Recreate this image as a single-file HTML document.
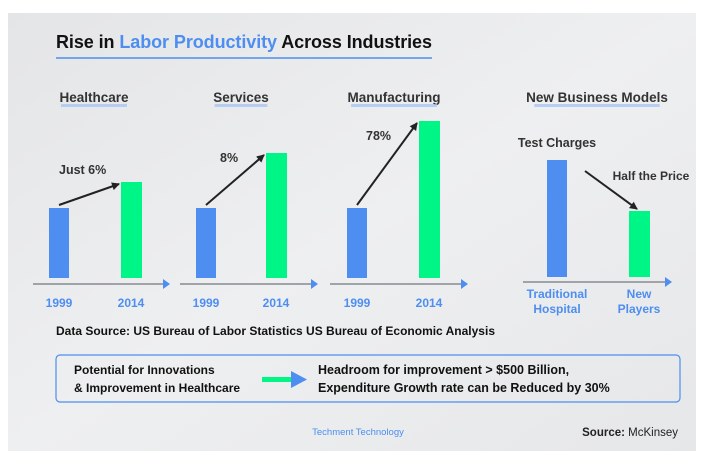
<!DOCTYPE html>
<html><head><meta charset="utf-8"><style>
body{margin:0;background:#fff;font-family:"Liberation Sans","DejaVu Sans",sans-serif;}
svg{display:block}
text{font-family:"Liberation Sans","DejaVu Sans",sans-serif;font-weight:bold}
</style></head><body>
<svg id="c" width="704" height="457">
<defs>
<linearGradient id="bg" x1="0" y1="0" x2="1" y2="1"><stop offset="0" stop-color="#e4e5e7"/><stop offset="0.5" stop-color="#eeeff0"/><stop offset="1" stop-color="#e6e7e9"/></linearGradient>
<marker id="ah" markerWidth="8" markerHeight="8" refX="7" refY="4" orient="auto" markerUnits="userSpaceOnUse"><path d="M0,0 L8,4 L0,8 z" fill="#222"/></marker>
</defs>
<rect x="8" y="13" width="688" height="438" fill="url(#bg)"/>
<text x="56" y="48" font-size="18" fill="#111" textLength="376">Rise in <tspan fill="#4d8ef0">Labor Productivity</tspan> Across Industries</text>
<line x1="56" y1="58" x2="432" y2="58" stroke="#4d8ef0" stroke-width="1.5"/>
<g id="charts"></g>
<text x="56" y="335" font-size="12" fill="#111" textLength="439">Data Source: US Bureau of Labor Statistics US Bureau of Economic Analysis</text>
<rect x="56" y="355" width="624" height="47" rx="4" fill="none" stroke="#4d8ef0" stroke-width="1.2"/>
<text x="74" y="374" font-size="12" fill="#111"><tspan x="74">Potential for Innovations</tspan><tspan x="74" dy="18">&amp; Improvement in Healthcare</tspan></text>
<rect x="262" y="377" width="33" height="5" fill="#00f587"/>
<path d="M291,371 L307,379.5 L291,388 z" fill="#4d8ef0"/>
<text x="318" y="374" font-size="12.5" fill="#111"><tspan x="318">Headroom for improvement &gt; $500 Billion,</tspan><tspan x="318" dy="18">Expenditure Growth rate can be Reduced by 30%</tspan></text>
<text x="358" y="435" font-size="9.5" fill="#4d8ef0" text-anchor="middle" style="font-weight:normal">Techment Technology</text>
<text x="678" y="436" font-size="11.5" fill="#222" text-anchor="end">Source: <tspan style="font-weight:normal">McKinsey</tspan></text>
</svg>
<script>
const groups=["Healthcare","Services","Manufacturing","New Business Models"];
const labelsA=["1999","1999","1999","Traditional|Hospital"];
const labelsB=["2014","2014","2014","New|Players"];
const valuesA=[70,70,70,117];
const valuesB=[96,125,157,66];
const notes=["Just 6%","8%","78%","Test Charges"];
const note2=["","","","Half the Price"];
const NS="http://www.w3.org/2000/svg";
const g=document.getElementById('charts');
const lay=[{ax0:33,ax1:170,a:59,b:131,tx:94,base:278,axy:284},{ax0:180,ax1:318,a:206,b:276,tx:241,base:278,axy:284},{ax0:330,ax1:468,a:357,b:429,tx:394,base:278,axy:284},{ax0:523,ax1:672,a:557,b:639,tx:597,base:277,axy:282}];
const y=(base,v)=>base-v;
function el(t,a,p){const e=document.createElementNS(NS,t);for(const k in a)e.setAttribute(k,a[k]);(p||g).appendChild(e);return e;}
groups.forEach((name,i)=>{
 const L=lay[i];
 const t=el('text',{x:L.tx,y:102,'font-size':13.5,fill:'#333','text-anchor':'middle'});
 t.textContent=name;
 
 
 const hl=el('rect',{x:L.tx-name.length*3.3,y:104,width:name.length*6.6,height:3,fill:'#a9c6f2',opacity:0.8});
 
 
 const ya=y(L.base,valuesA[i]),yb=y(L.base,valuesB[i]);
 const ba=el('rect',{x:L.a-10,y:ya,width:20,height:L.base-ya,fill:'#4d8ef0'});
 
 
 const bb=el('rect',{x:L.b-10,y:yb,width:21,height:L.base-yb,fill:'#00f587'});
 
 
 const ax=el('line',{x1:L.ax0,y1:L.axy,x2:L.ax1-6,y2:L.axy,stroke:'#a0a4a8','stroke-width':2});
 
 
 const ah=el('path',{d:`M${L.ax1-7},${L.axy-5} L${L.ax1},${L.axy} L${L.ax1-7},${L.axy+5} z`,fill:'#4d8ef0'});
 
 
 [[labelsA[i],L.a],[labelsB[i],L.b]].forEach(([lab,x])=>{
  const parts=lab.split('|');
  const tt=el('text',{x:x,y:parts.length>1?298:307,'font-size':12,fill:'#4d8ef0','text-anchor':'middle'});
  parts.forEach((p,k)=>{const s=el('tspan',{x:x,dy:k?15:0},tt);s.textContent=p;});
  
  
 });
 let arr;
 if(i<3){arr=el('line',{x1:L.a,y1:ya-3,x2:L.b-12,y2:yb+2,stroke:'#222','stroke-width':2,'marker-end':'url(#ah)'});}
 else{arr=el('line',{x1:585,y1:171,x2:L.b-2,y2:yb-2,stroke:'#222','stroke-width':2,'marker-end':'url(#ah)'});}
 
 
 const pos=[[59,174,'start'],[220,162,'start'],[366,140,'start'],[557,147,'middle']][i];
 const nt=el('text',{x:pos[0],y:pos[1],'font-size':12.5,fill:'#333','text-anchor':pos[2]});
 nt.textContent=notes[i];
 
 
 if(note2[i]){const n2=el('text',{x:651,y:180,'font-size':12,fill:'#333','text-anchor':'middle'});n2.textContent=note2[i];
 
 }
});
</script>
</body></html>
